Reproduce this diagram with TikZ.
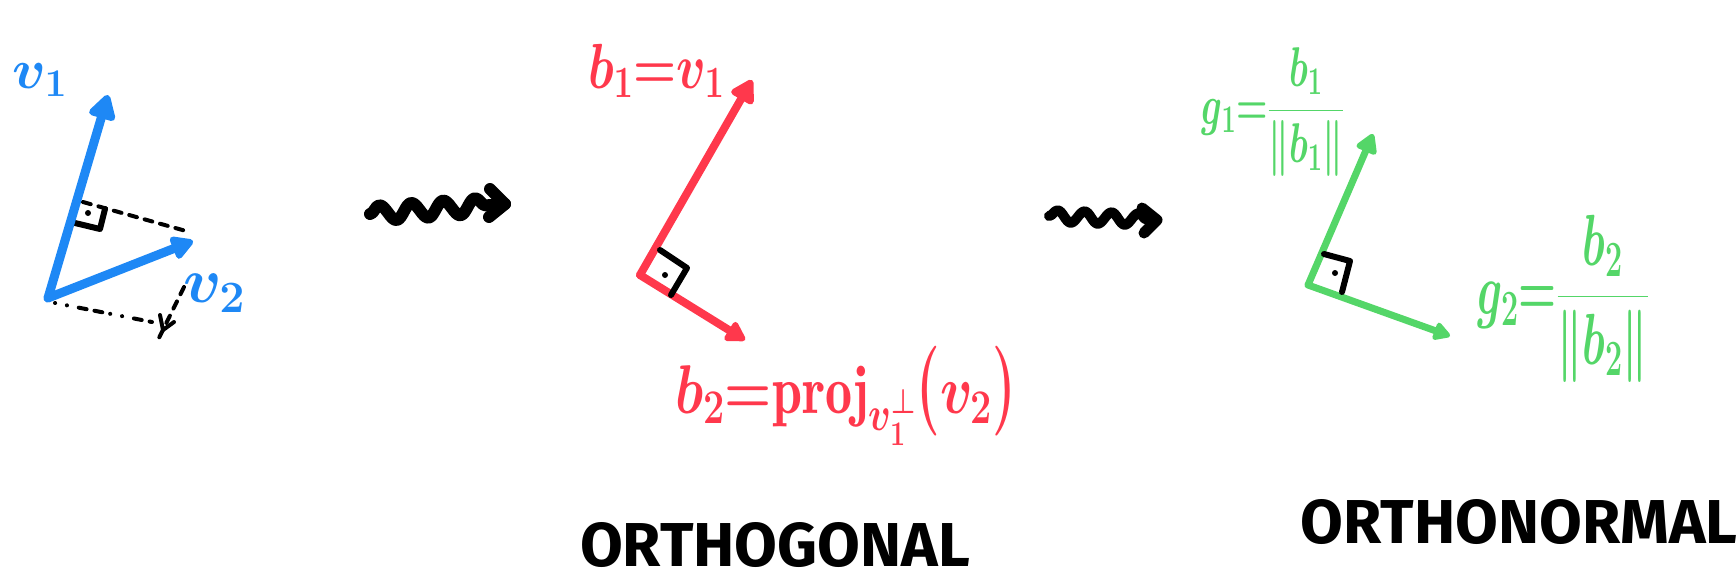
\documentclass[tikz,border=0pt]{standalone}
\usepackage{fix-cm}
\usepackage{amsmath}
\usepackage{fontspec}
\newfontfamily\capsfont{Fira Sans}
\usetikzlibrary{arrows.meta,decorations.pathmorphing}
\definecolor{vblue}{RGB}{30,136,245}
\definecolor{vred}{RGB}{255,56,76}
\definecolor{vgreen}{RGB}{84,214,104}
\tikzset{
  vecline/.style={line width=#1, line cap=round, line join=round},
  rmark/.style={black, line width=6pt, line cap=round, line join=round},
  dashline/.style={black, line width=4pt, line cap=round, dash pattern=on 8pt off 8pt},
  wiggle/.style={black, line width=#1, line cap=round, line join=round, decorate,
    decoration={snake, amplitude=8pt, segment length=32pt, post length=12pt}},
  barb/.style={black, line width=#1, line cap=round, line join=round},
  lbl/.style={inner sep=0pt, outer sep=0pt},
  caps/.style={inner sep=0pt, font=\capsfont\bfseries\fontsize{#1}{70}\selectfont}
}
\newcommand{\tallparen}[1]{\scalebox{1}[1.3]{$\boldsymbol{#1}$}}
\begin{document}
\begin{tikzpicture}[x=1pt,y=-1pt]
\useasboundingbox (0,0) rectangle (1736,584);
% ---------------- blue ----------------
\coordinate (o) at (48,298);
\coordinate (v1t) at (108,95);
\coordinate (v2t) at (193,241);
\coordinate (bf) at (83,202);
\coordinate (bd) at (186,231);
\coordinate (p) at (152,322);
\coordinate (pt) at (184,287);
\coordinate (pb) at (158,340);
\coordinate (o2) at (55,303);
\draw[dashline] (bf) -- (bd);
\draw[dashline, dash pattern=on 0.1pt off 12pt on 0.1pt off 12pt on 8pt off 8pt on 8pt off 8pt] (o2) -- (p);
\draw[dashline] (pt) -- (pb);
\draw[rmark] (75,223) -- (100,229) -- (105,209);
\fill (88,213) circle (3pt);
\draw[rmark, line width=4pt] (160,315) -- (163,330) -- (174,322);
\draw[vblue, vecline=9pt, -{Triangle[round,length=28pt,width=30pt]}] (o) -- (v1t);
\draw[vblue, vecline=9pt, -{Triangle[round,length=25pt,width=26pt]}] (o) -- (v2t);
\node[lbl, vblue, font=\fontsize{56}{60}\selectfont] (v1l) at (40,80) {$\boldsymbol{v_1}$};
\node[lbl, vblue, font=\fontsize{64}{70}\selectfont] (v2l) at (214,293) {$\boldsymbol{v_2}$};
% ---------------- wiggle 1 ----------------
\coordinate (w1s) at (370,214);
\coordinate (w1e) at (505,204);
\draw[wiggle=12pt] (w1s) -- (w1e);
\draw[barb=12pt] (w1e) ++(-15,-15) -- (w1e) -- ++(-16,13);
% ---------------- red ----------------
\coordinate (rc) at (640,275);
\coordinate (b1t) at (752,80);
\coordinate (b2t) at (745,340);
\draw[vred, vecline=8pt, -{Triangle[round,length=26pt,width=28pt]}] (rc) -- (b1t);
\draw[vred, vecline=8pt, -{Triangle[round,length=22pt,width=24pt]}] (rc) -- (b2t);
\draw[rmark] (660,250) -- (687,268) -- (671,295);
\fill (665,275) circle (3pt);
\node[lbl, vred, anchor=base west, font=\fontsize{58}{60}\selectfont] (b1l) at (588,88) {\scalebox{0.85}[1.1]{$\boldsymbol{b_1{=}v_1}$}};
\node[lbl, vred, anchor=base west, font=\fontsize{60}{64}\selectfont] (b2l) at (675,413) {\scalebox{0.9}[1.15]{$\boldsymbol{b_2{=}}\mathbf{proj}_{\boldsymbol{v_1^{\perp}}}\tallparen{(}\boldsymbol{v_2}\tallparen{)}$}};
% ---------------- wiggle 2 ----------------
\coordinate (w2s) at (1049,216);
\coordinate (w2e) at (1157,220);
\draw[wiggle=10pt, decoration={snake, amplitude=6pt, segment length=27pt, post length=10pt}] (w2s) -- (w2e);
\draw[barb=11pt] (w2e) ++(-15,-12) -- (w2e) -- ++(-13,13);
% ---------------- green ----------------
\coordinate (gc) at (1308,285);
\coordinate (g1t) at (1373,134);
\coordinate (g2t) at (1450,336);
\draw[vgreen, vecline=7pt, -{Triangle[round,length=22pt,width=24pt]}] (gc) -- (g1t);
\draw[vgreen, vecline=7pt, -{Triangle[round,length=19pt,width=20pt]}] (gc) -- (g2t);
\draw[rmark] (1324,254) -- (1350,261) -- (1342,292);
\fill (1335,273) circle (3pt);
\node[lbl, vgreen, font=\fontsize{50}{56}\selectfont] (g1l) at (1273,112) {\scalebox{0.72}[1.12]{$\boldsymbol{g_1{=}}\dfrac{\boldsymbol{b_1}}{\boldsymbol{\|b_1\|}}$}};
\node[lbl, vgreen, font=\fontsize{58}{64}\selectfont] (g2l) at (1563,299) {\scalebox{0.75}[1.25]{$\boldsymbol{g_2{=}}\dfrac{\boldsymbol{b_2}}{\boldsymbol{\|b_2\|}}$}};
% ---------------- captions ----------------
\node[caps=62] (orthog) at (775,545) {ORTHOGONAL};
\node[caps=62] (orthon) at (1519,522) {ORTHONORMAL};
\end{tikzpicture}
\end{document}
